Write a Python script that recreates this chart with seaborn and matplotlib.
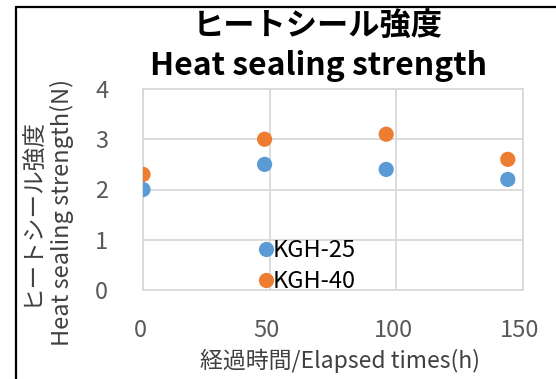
import matplotlib
matplotlib.use("Agg")
import matplotlib.pyplot as plt
import matplotlib.transforms as mtransforms
from matplotlib.lines import Line2D
import seaborn as sns
import pandas as pd

# ---- data ----
hours = [0, 48, 96, 144]
kgh25 = [2.0, 2.5, 2.4, 2.2]
kgh40 = [2.3, 3.0, 3.1, 2.6]
series_names = ["KGH-25", "KGH-40"]
x_ticks = [0, 50, 100, 150]
y_ticks = [0, 1, 2, 3, 4]
title_lines = ["ヒートシール強度", "Heat sealing strength"]
ylabel_lines = ["ヒートシール強度", "Heat sealing strength(N)"]
xlabel = "経過時間/Elapsed times(h)"

df = pd.DataFrame({
    "x": hours + hours,
    "y": kgh25 + kgh40,
    "series": [series_names[0]] * len(hours) + [series_names[1]] * len(hours),
})

sns.set_theme(style="white")
FONT = ["Noto Sans CJK JP", "DejaVu Sans"]
plt.rcParams["font.family"] = FONT

W, H = 556, 379
fig = plt.figure(figsize=(W / 100, H / 100), dpi=100)
fig.patch.set_facecolor("white")
ax = fig.add_axes([143 / W, 1 - 290 / H, (523 - 143) / W, (290 - 89) / H])

palette = {series_names[0]: "#5B9BD5", series_names[1]: "#ED7D31"}
sns.scatterplot(data=df, x="x", y="y", hue="series", palette=palette,
                s=120, linewidth=0, ax=ax, zorder=3)

ax.set_xlim(0, 150)
ax.set_ylim(0, 4)
ax.set_xticks(x_ticks)
ax.set_yticks(y_ticks)
ax.set_xticklabels([str(t) for t in x_ticks])
ax.set_yticklabels([str(t) for t in y_ticks])
ax.tick_params(axis="x", length=0, pad=21, labelsize=17, labelcolor="#595959")
ax.tick_params(axis="y", length=0, pad=25, labelsize=17, labelcolor="#595959")
shift = mtransforms.ScaledTranslation(-3 / 100, 0, fig.dpi_scale_trans)
for lbl in ax.get_xticklabels():
    lbl.set_transform(lbl.get_transform() + shift)
ax.grid(True, color="#D9D9D9", linewidth=1.3)
ax.set_axisbelow(True)
for sp in ax.spines.values():
    sp.set_color("#D9D9D9")
    sp.set_linewidth(1.3)
ax.set_xlabel("")
ax.set_ylabel("")

handles, labels = ax.get_legend_handles_labels()
leg = ax.legend(handles, labels, loc="upper left",
                bbox_to_anchor=((247 - 143) / 380, (290 - 230) / 201),
                frameon=False, fontsize=17, handletextpad=-0.1,
                handlelength=0.8, labelspacing=0.32, borderaxespad=0,
                labelcolor="black")
for t in leg.get_texts():
    t.set_family(FONT)

# titles and labels
fig.text(318 / W, 1 - 27 / H, title_lines[0], ha="center", va="center",
         fontsize=22.5, fontweight="bold", color="black")
fig.text(318 / W, 1 - 66 / H, title_lines[1], ha="center", va="center",
         fontsize=23, fontweight="bold", color="black")
fig.text(340 / W, 1 - 361 / H, xlabel, ha="center", va="center",
         fontsize=16.5, color="#404040")
fig.text(32 / W, 1 - 211 / H, ylabel_lines[0], ha="center", va="center",
         rotation=90, fontsize=17, color="#404040")
fig.text(62 / W, 1 - 212 / H, ylabel_lines[1], ha="center", va="center",
         rotation=90, fontsize=17, color="#404040")

# outer frame (left and top edges visible)
fig.add_artist(Line2D([16 / W, 16 / W], [0, 1 - 7 / H], color="black",
                      linewidth=1.6, transform=fig.transFigure))
fig.add_artist(Line2D([16 / W, 1], [1 - 7 / H, 1 - 7 / H], color="black",
                      linewidth=1.6, transform=fig.transFigure))

fig.savefig("out.png", dpi=100)
